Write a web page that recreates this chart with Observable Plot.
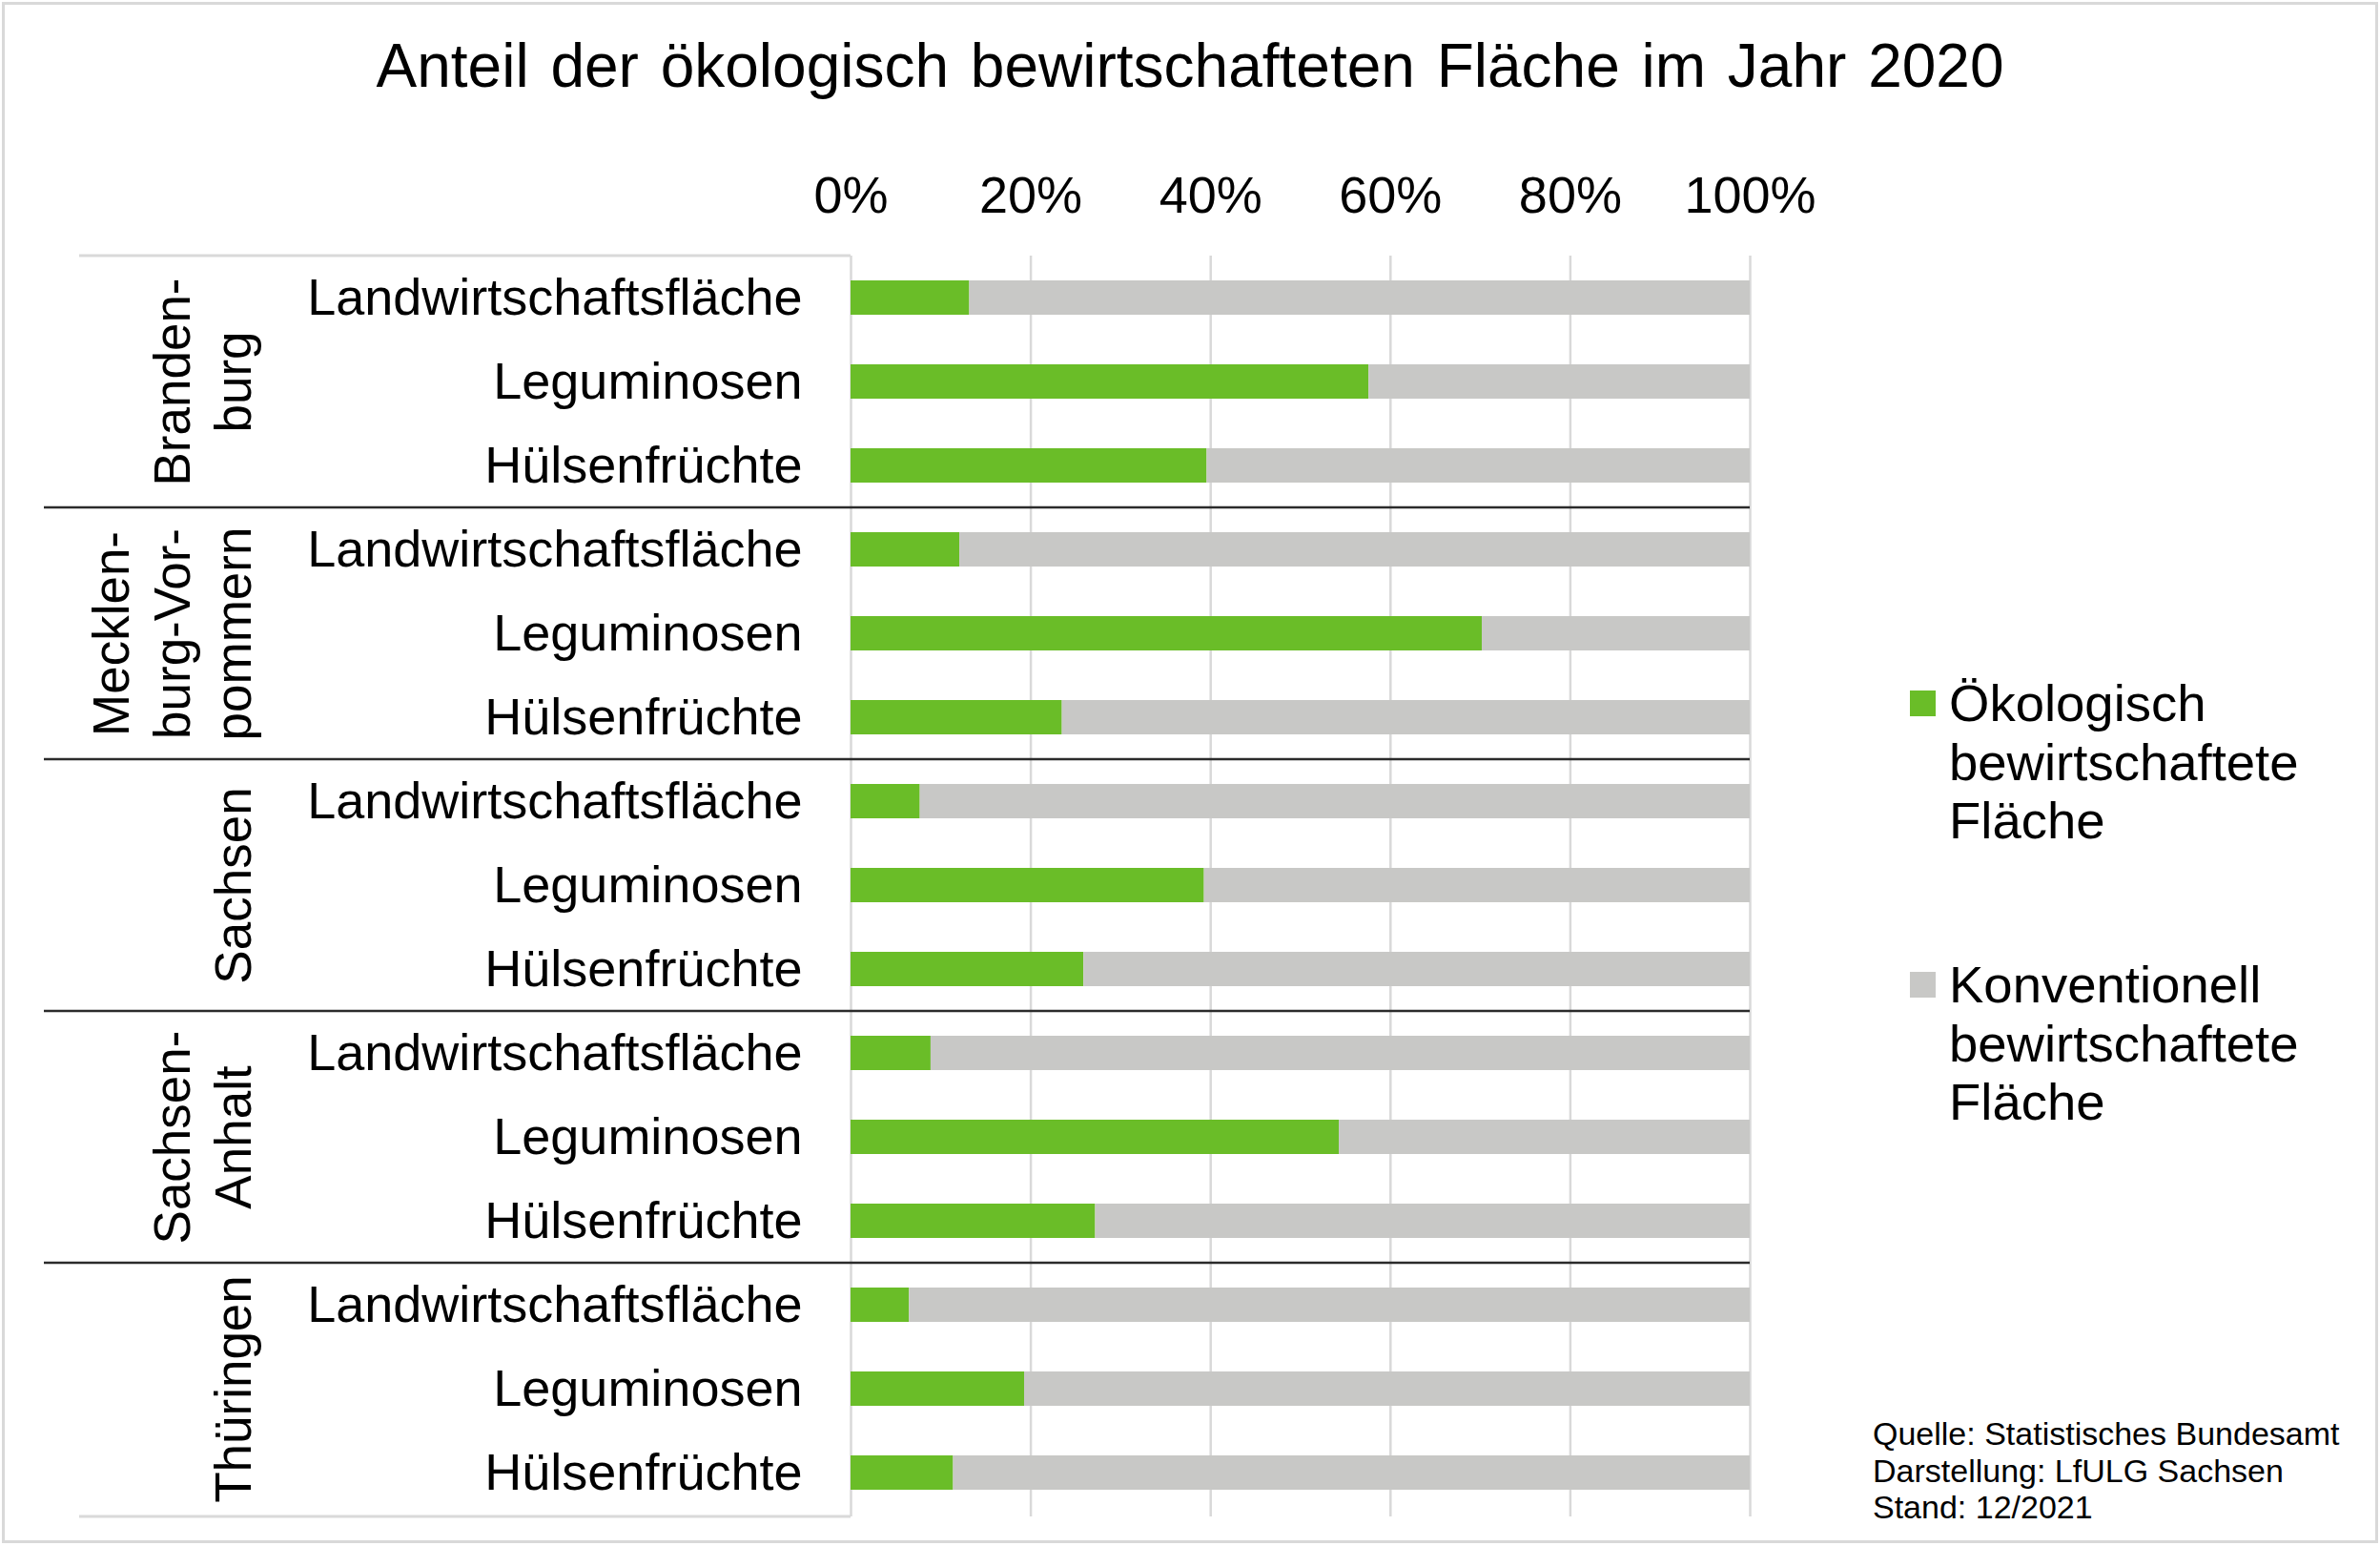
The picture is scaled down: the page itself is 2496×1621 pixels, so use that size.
<!DOCTYPE html>
<html>
<head>
<meta charset="utf-8">
<script src="https://cdn.jsdelivr.net/npm/d3@7"></script>
<script src="https://cdn.jsdelivr.net/npm/@observablehq/plot@0.6"></script>
<style>
  html, body { margin: 0; padding: 0; background: #fff; }
  body { font-family: "Liberation Sans", Arial, sans-serif; color: #000; }
  #wrap { position: relative; width: 2496px; height: 1621px; overflow: hidden; background: #fff; }
  #frame { position: absolute; left: 2px; top: 2px; width: 2492px; height: 1616px; border: 3px solid #d9d9d9; box-sizing: border-box; pointer-events: none; }
  #chart { position: absolute; left: 0; top: 0; }
  #title { position: absolute; left: 0; top: 37px; width: 2496px; text-align: center; font-size: 64px; line-height: 64px; word-spacing: 5px; white-space: nowrap; }
  .leg { position: absolute; left: 2003px; font-size: 54.5px; line-height: 61.5px; }
  .leg .sw { position: absolute; left: 0; width: 27px; height: 27px; top: 17px; }
  .leg .tx { position: absolute; left: 41px; white-space: nowrap; }
  #caption { position: absolute; left: 1964px; top: 1484px; font-size: 34px; line-height: 38.5px; white-space: nowrap; }
</style>
</head>
<body>
<div id="wrap">
  <div id="chart"></div>
  <div id="title"></div>
  <div id="legend"></div>
  <div id="caption"></div>
  <div id="frame"></div>
</div>
<script>
// ---- data ----
const titleText = "Anteil der ökologisch bewirtschafteten Fläche im Jahr 2020";
const states = ["Brandenburg", "Mecklenburg-Vorpommern", "Sachsen", "Sachsen-Anhalt", "Thüringen"];
const stateLabels = ["Branden-\nburg", "Mecklen-\nburg-Vor-\npommern", "Sachsen", "Sachsen-\nAnhalt", "Thüringen"];
const crops = ["Landwirtschaftsfläche", "Leguminosen", "Hülsenfrüchte"];
// share of organically farmed area (%), per state in crop order
const ecoBrandenburg = [13.2, 57.6, 39.6];
const ecoMV = [12.1, 70.2, 23.5];
const ecoSachsen = [7.7, 39.3, 25.9];
const ecoSachsenAnhalt = [8.9, 54.3, 27.2];
const ecoThueringen = [6.5, 19.3, 11.4];
const xTicks = [0, 20, 40, 60, 80, 100];
const seriesNames = ["Ökologisch\nbewirtschaftete\nFläche", "Konventionell\nbewirtschaftete\nFläche"];
const seriesColors = ["#6abd28", "#c8c8c6"];
const captionLines = ["Quelle: Statistisches Bundesamt", "Darstellung: LfULG Sachsen", "Stand: 12/2021"];

// ---- build table ----
const ecoByState = [ecoBrandenburg, ecoMV, ecoSachsen, ecoSachsenAnhalt, ecoThueringen];
const rows = [];
states.forEach((s, i) => crops.forEach((c, j) => {
  rows.push({key: s + "|" + c, state: s, crop: c, eco: ecoByState[i][j], conv: 100 - ecoByState[i][j]});
}));
const keys = rows.map(d => d.key);
const stateRows = states.map((s, i) => ({state: s, label: stateLabels[i], key: s + "|" + crops[1]}));

const FONT = "Liberation Sans, Arial, sans-serif";

// separators + label box, positioned through the scales
function separators(index, scales, values, dims) {
  const y = scales.y, x = scales.x;
  const bw = y.bandwidth();
  const step = y(keys[1]) - y(keys[0]);
  const g = d3.create("svg:g");
  const top = dims.marginTop + 3, bottom = dims.height - dims.marginBottom;
  // light box around label area
  g.append("line").attr("x1", 83).attr("x2", x(0)).attr("y1", top).attr("y2", top)
    .attr("stroke", "#d9d9d9").attr("stroke-width", 3);
  g.append("line").attr("x1", 83).attr("x2", x(0)).attr("y1", bottom).attr("y2", bottom)
    .attr("stroke", "#d9d9d9").attr("stroke-width", 3);
  // black group separators
  states.slice(1).forEach(s => {
    const yy = y(s + "|" + crops[0]) + bw / 2 - step / 2;
    g.append("line").attr("x1", 46).attr("x2", x(100)).attr("y1", yy).attr("y2", yy)
      .attr("stroke", "#2b2b2b").attr("stroke-width", 2.5);
  });
  return g.node();
}

const chart = Plot.plot({
  width: 2496,
  height: 1621,
  marginLeft: 892,
  marginRight: 661,
  marginTop: 265,
  marginBottom: 31,
  style: {fontFamily: FONT, fontSize: "54px", color: "#000", background: "transparent", overflow: "visible"},
  x: {domain: [0, 100], axis: "top", ticks: xTicks, tickFormat: d => d + "%", tickSize: 0, tickPadding: 43, label: null},
  y: {domain: keys, paddingInner: 0.596, paddingOuter: 0.298, tickSize: 0, tickPadding: 51, tickFormat: k => k.split("|")[1], label: null},
  marks: [
    Plot.ruleX(xTicks, {x: d => d, stroke: "#d9d9d9", strokeWidth: 2.5, insetTop: 3}),
    Plot.barX(rows, {y: "key", x1: 0, x2: "eco", fill: seriesColors[0]}),
    Plot.barX(rows, {y: "key", x1: "eco", x2: 100, fill: seriesColors[1]}),
    separators,
    Plot.text(stateRows, {
      y: "key", text: "label", frameAnchor: "left", dx: -630,
      rotate: -90, lineAnchor: "bottom", textAnchor: "middle",
      lineHeight: 1.2, fontSize: 53, fill: "#000"
    })
  ]
});
document.getElementById("chart").appendChild(chart);

// title
document.getElementById("title").textContent = titleText;

// legend
const legend = document.getElementById("legend");
const legTops = [707, 1002];
seriesNames.forEach((n, i) => {
  const item = document.createElement("div");
  item.className = "leg";
  item.style.top = legTops[i] + "px";
  const sw = document.createElement("div");
  sw.className = "sw";
  sw.style.background = seriesColors[i];
  const tx = document.createElement("div");
  tx.className = "tx";
  tx.innerHTML = n.split("\n").join("<br>");
  item.appendChild(sw);
  item.appendChild(tx);
  legend.appendChild(item);
});

// caption
document.getElementById("caption").innerHTML = captionLines.join("<br>");
</script>
</body>
</html>
